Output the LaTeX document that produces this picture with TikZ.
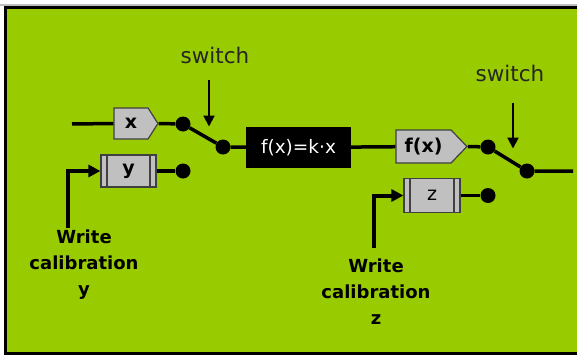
\documentclass[tikz,border=0pt]{standalone}
\usepackage{fontspec}
\setmainfont{DejaVu Sans}
\usetikzlibrary{arrows.meta,shapes.symbols}
\definecolor{board}{HTML}{99CC00}
\definecolor{boxgray}{HTML}{C0C0C0}
\definecolor{edge}{HTML}{404040}

\begin{document}
\begin{tikzpicture}[x=1pt,y=-1pt, every node/.style={font=\fontsize{18}{26}\selectfont,align=center,inner sep=0pt},
  sig/.style={signal,signal to=east,draw=edge,fill=boxgray,line width=1.2pt,font=\fontsize{19}{22}\selectfont\bfseries},
  reg/.style={rectangle,draw=edge,fill=boxgray,line width=1.2pt,minimum width=55pt,minimum height=32pt,
    font=\fontsize{19}{22}\selectfont,
    path picture={\draw[edge,line width=1.2pt]
      ([xshift=6pt]path picture bounding box.north west)--([xshift=6pt]path picture bounding box.south west)
      ([xshift=-6pt]path picture bounding box.north east)--([xshift=-6pt]path picture bounding box.south east);}},
  blk/.style={fill=black,text=white,minimum width=105pt,minimum height=41pt,font=\fontsize{18.5}{22}\selectfont},
  dt/.style={circle,fill=black,minimum size=15pt},
  w/.style={line width=3.5pt},
  sw/.style={line width=2pt,-{Triangle[length=11pt,width=11pt]}},
  cal/.style={line width=4pt,-{Triangle[length=12pt,width=12pt]}},
  lab/.style={font=\fontsize{18}{26}\selectfont\bfseries},
  swl/.style={font=\fontsize{21.5}{24}\selectfont,text=black!85}]
  \useasboundingbox (0,0) rectangle (577,356);
  \clip (0,0) rectangle (577,356);
  % frame
  \fill[white] (0,0) rectangle (577,356);
  \draw[gray!50,line width=1.5pt] (0,4.8)--(577,4.8);
  \draw[line width=3pt,fill=board] (5.5,7.5) rectangle (600,353.5);
  % blocks
  \node[sig,minimum width=44pt,minimum height=31pt,signal pointer angle=115] (xin) at (131,123.5) {x};
  \node[reg] (y) at (128.5,171) {\bfseries y};
  \node[blk] (k) at (298.5,147.5) {f(x)=k·x};
  \node[sig,minimum width=71pt,minimum height=33pt,signal pointer angle=92] (fx) at (423.5,146.5) {f(x)};
  \node[reg,minimum width=56pt,minimum height=34pt] (z) at (432,195.5) {z};
  % contacts
  \node[dt] (d1) at (183,124) {};
  \node[dt] (d2) at (223,147) {};
  \node[dt] (d3) at (488,147) {};
  \node[dt] (d4) at (527,171) {};
  \node[dt] (d5) at (183,171) {};
  \node[dt] (d6) at (488,195.5) {};
  \coordinate (in) at (72,124);
  \coordinate (out) at (573,171);
  % wires
  \draw[w] (in)--(xin.west);
  \draw[w] (xin.east)--(d1)--(d2)--(k);
  \draw[w] (k)--(fx);
  \draw[w] (fx.east)--(d3)--(d4)--(out);
  \draw[w] (y)--(d5);
  \draw[w] (z)--(d6);
  % switches
  \node[swl] (s1) at (215,55) {switch};
  \node[swl] (s2) at (510,73) {switch};
  \draw[sw] ([xshift=-6pt]s1.south) ++(0,16)--++(0,47);
  \draw[sw] ([xshift=3pt]s2.south) ++(0,21)--++(0,46);
  % calibration
  \node[lab] (ly) at (84,265) {Write\\calibration\\y};
  \node[lab] (lz) at (376,292) {Write\\calibration\\z};
  \draw[cal] ([xshift=-16pt,yshift=2pt]ly.north) |- (y.west);
  \draw[cal] ([xshift=-2pt,yshift=11pt]lz.north) |- (z.west);
\end{tikzpicture}
\end{document}
